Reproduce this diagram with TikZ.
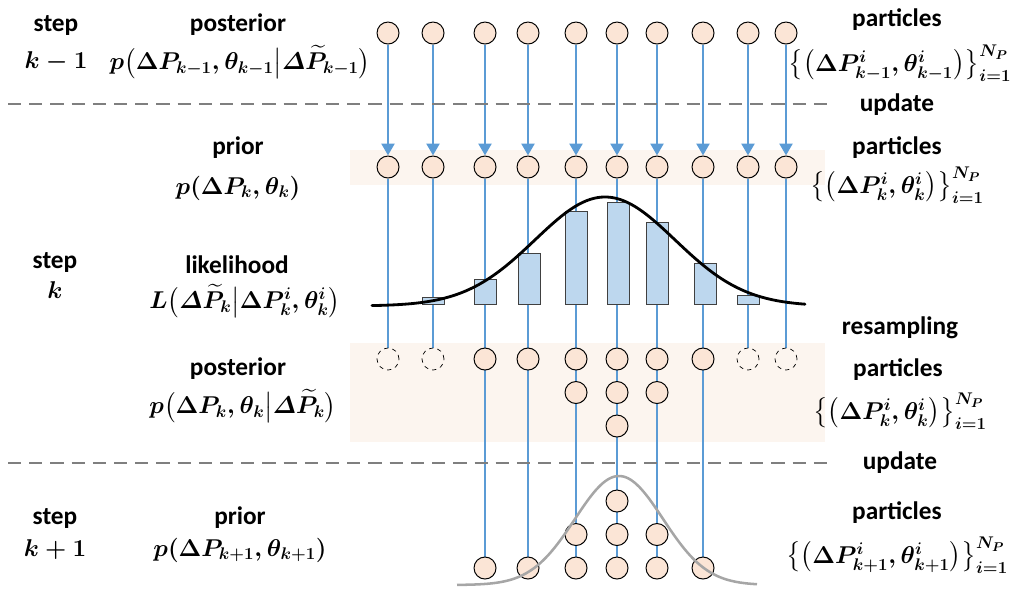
\documentclass[tikz,border=0pt]{standalone}
\usepackage{amsmath,amssymb}
\usepackage{fontspec}
\setmainfont{Carlito}
\usepackage{tikz}
\usetikzlibrary{arrows.meta,positioning}
\definecolor{wire}{HTML}{5B9BD5}
\definecolor{peach}{HTML}{FBE5D6}
\definecolor{band}{HTML}{FCF5EF}
\definecolor{barblue}{HTML}{BDD7EE}
\definecolor{grid}{HTML}{7F7F7F}
\definecolor{curve2}{HTML}{A6A6A6}
\pgfdeclarelayer{back}
\pgfdeclarelayer{wires}
\pgfsetlayers{back,wires,main}

\begin{document}
\begin{tikzpicture}[
      x=0.025cm, y=-0.025cm,
      particle/.style={draw,circle,fill=peach,minimum size=0.55cm,inner sep=0pt,line width=0.7pt},
      ghost/.style={draw,circle,dashed,minimum size=0.55cm,inner sep=0pt,line width=0.5pt},
      link/.style={wire,line width=2.1pt},
      bar/.style={draw=black!75,fill=barblue,line width=0.6pt},
      sep/.style={grid,line width=2.1pt,dash pattern=on 0.33cm off 0.2cm},
      lbl/.style={font=\bfseries\fontsize{18}{20}\selectfont,inner sep=0pt},
      frm/.style={font=\boldmath\fontsize{18}{20}\selectfont,inner sep=0pt}
  ]
    \useasboundingbox (0,0) rectangle (1010,588);

    % shaded rows
    \begin{pgfonlayer}{back}
      \fill[band] (350,150) rectangle (825,185);
      \fill[band] (350,343) rectangle (825,442);
    \end{pgfonlayer}

    % step separators
    \draw[sep] (8,104) -- (830,104);
    \draw[sep] (8,463) -- (830,463);

    % particles: x position / copies after resampling
    \foreach \x/\m [count=\i] in {388/0,433/0,485/1,528/1,576/2,617/3,657/2,703/1,748/0,786/0}{
      \node[particle] (t\i) at (\x,33) {};
      \node[particle] (p\i) at (\x,167) {};
      \begin{pgfonlayer}{wires}
        \draw[link,-{Triangle[length=0.3cm,width=0.32cm]}] (t\i) -- (p\i);
      \end{pgfonlayer}
      \ifnum\m=0
        \node[ghost] (r\i-1) at (\x,359) {};
        \begin{pgfonlayer}{wires}
          \draw[link] (p\i) -- (r\i-1);
        \end{pgfonlayer}
      \else
        \foreach \j in {1,...,\m}{
          \pgfmathsetmacro\ya{359+33.5*(\j-1)}
          \pgfmathsetmacro\yb{568-33.5*(\j-1)}
          \node[particle] (r\i-\j) at (\x,\ya) {};
          \node[particle] (n\i-\j) at (\x,\yb) {};
        }
        \begin{pgfonlayer}{wires}
          \draw[link] (p\i) -- (n\i-1);
        \end{pgfonlayer}
      \fi
    }

    % likelihood weights
    \foreach \x/\t in {433/297,485/279,529/253,576/211,618/202,657/222,705/263,748/295}
      \draw[bar] (\x-11,\t) rectangle (\x+11,304);
    \draw[line width=2pt,line cap=round] plot[domain=372:805,samples=90,smooth]
      (\x,{306-109*exp(-0.5*((\x-605)/70)^2)});

    % density after resampling
    \draw[curve2,line width=1.8pt] plot[domain=457:757,samples=70,smooth]
      (\x,{585-109*exp(-0.5*((\x-619)/44)^2)});

    % left column
    \node[lbl] (stepA) at (56,25) {step};
    \node[frm] (kA) at (56,62) {$k-1$};
    \node[lbl] (postA) at (238,25) {posterior};
    \node[frm] (fA) at (240,62) {$p\bigl(\Delta P_{k-1},\theta_{k-1}\big|\varDelta\widetilde{P}_{k-1}\bigr)$};

    \node[lbl] (priorB) at (238,148) {prior};
    \node[frm] (fB) at (238,188) {$p(\Delta P_k,\theta_k)$};
    \node[lbl] (stepB) at (55,262) {step};
    \node[frm] (kB) at (55,290) {$k$};
    \node[lbl] (likB) at (237,265) {likelihood};
    \node[frm] (fL) at (245,301) {$L\bigl(\varDelta\widetilde{P}_k\big|\Delta P_k^i,\theta_k^i\bigr)$};
    \node[lbl] (postB) at (238,369) {posterior};
    \node[frm] (fP) at (243,406) {$p\bigl(\Delta P_k,\theta_k\big|\varDelta\widetilde{P}_k\bigr)$};

    \node[lbl] (stepC) at (55,518) {step};
    \node[frm] (kC) at (55,550) {$k+1$};
    \node[lbl] (priorC) at (240,518) {prior};
    \node[frm] (fC) at (240,550) {$p(\Delta P_{k+1},\theta_{k+1})$};

    % right column
    \node[lbl] (partA) at (897,20) {particles};
    \node[frm] (setA) at (900,63) {$\bigl\{\bigl(\Delta P_{k-1}^i,\theta_{k-1}^i\bigr)\bigr\}_{i=1}^{N_P}$};
    \node[lbl] (updA) at (897,105) {update};
    \node[lbl] (partB) at (897,148) {particles};
    \node[frm] (setB) at (897,185) {$\bigl\{\bigl(\Delta P_k^i,\theta_k^i\bigr)\bigr\}_{i=1}^{N_P}$};
    \node[lbl] (resB) at (900,328) {resampling};
    \node[lbl] (partC) at (898,370) {particles};
    \node[frm] (setC) at (900,411) {$\bigl\{\bigl(\Delta P_k^i,\theta_k^i\bigr)\bigr\}_{i=1}^{N_P}$};
    \node[lbl] (updC) at (900,463) {update};
    \node[lbl] (partD) at (897,513) {particles};
    \node[frm] (setD) at (897,555) {$\bigl\{\bigl(\Delta P_{k+1}^i,\theta_{k+1}^i\bigr)\bigr\}_{i=1}^{N_P}$};
\end{tikzpicture}
\end{document}
